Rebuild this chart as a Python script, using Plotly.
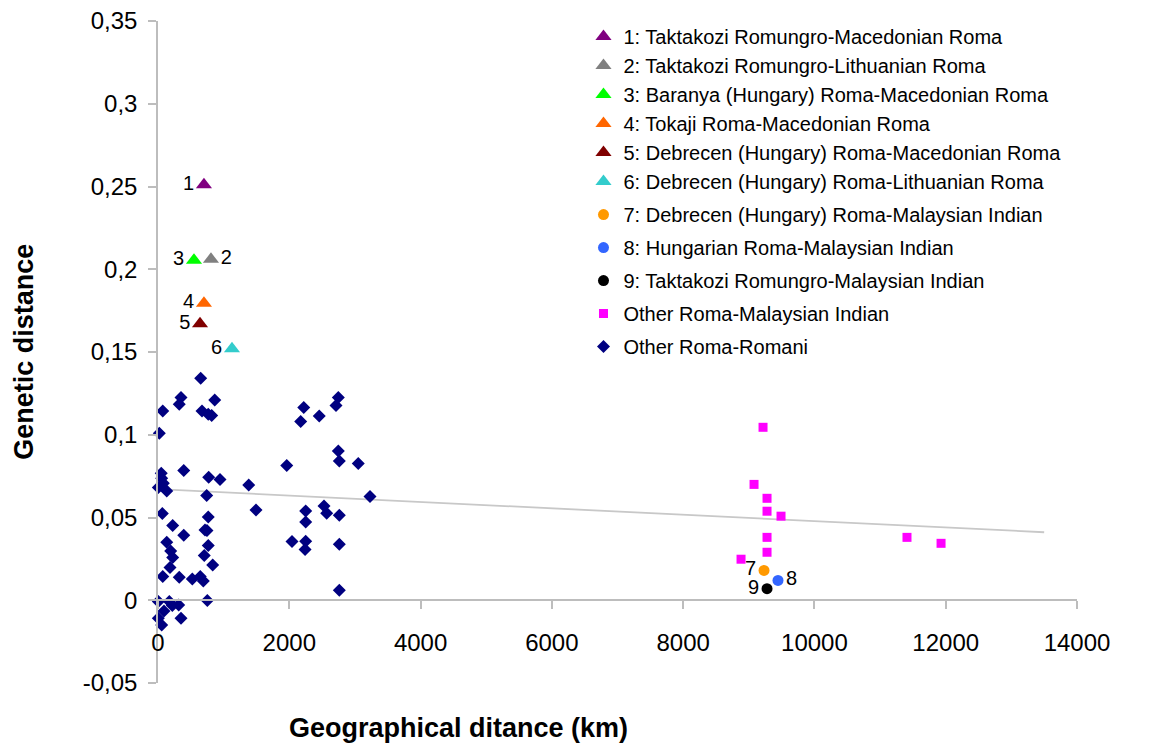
import plotly.graph_objects as go

# ---------------- data ----------------
special_names = [
    "1: Taktakozi Romungro-Macedonian Roma",
    "2: Taktakozi Romungro-Lithuanian Roma",
    "3: Baranya (Hungary) Roma-Macedonian Roma",
    "4: Tokaji Roma-Macedonian Roma",
    "5: Debrecen (Hungary) Roma-Macedonian Roma",
    "6: Debrecen (Hungary) Roma-Lithuanian Roma",
    "7: Debrecen (Hungary) Roma-Malaysian Indian",
    "8: Hungarian Roma-Malaysian Indian",
    "9: Taktakozi Romungro-Malaysian Indian",
]
special_labels = ["1", "2", "3", "4", "5", "6", "7", "8", "9"]
special_x = [700, 807, 548, 700, 640, 1127, 9232, 9445, 9278]
special_y = [0.251, 0.206, 0.2055, 0.1795, 0.167, 0.152, 0.0180, 0.012, 0.0070]

malay_x = [9217, 9080, 9278, 9278, 9491, 9278, 9278, 8882, 11410, 11929]
malay_y = [0.1045, 0.070, 0.0616, 0.0538, 0.0508, 0.038, 0.029, 0.0248, 0.038, 0.0344]

romani_x = [650, 350, 324, 864, 72, 670, 766, 818, 20, 50, 392, 772, 945, 1382,
            56, 81, 5, 133, 742, 1493, 66, 766, 224, 716, 746, 392, 133, 766,
            193, 224, 705, 833, 183, 72, 324, 523, 644, 690, 751, 5, 172, 218,
            315, 91, 5, 350, 56,
            2747, 2712, 2220, 2457, 2174, 2747, 2762, 1961, 3051, 3230, 2250,
            2529, 2570, 2762, 2250, 2041, 2250, 2240, 2762, 2762]
romani_y = [0.1341, 0.1225, 0.1184, 0.1210, 0.1144, 0.1144, 0.1124, 0.1116,
            0.1009, 0.0767, 0.0784, 0.0743, 0.0729, 0.0697, 0.0737, 0.0707,
            0.0681, 0.0660, 0.0633, 0.0546, 0.0524, 0.0503, 0.0451, 0.0425,
            0.0421, 0.0393, 0.0350, 0.0331, 0.0298, 0.0258, 0.0270, 0.0213,
            0.0198, 0.0143, 0.0139, 0.0129, 0.0143, 0.0117, -0.0002, -0.0008,
            -0.0008, -0.0032, -0.0028, -0.0065, -0.0109, -0.0109, -0.0149,
            0.1225, 0.1176, 0.1164, 0.1114, 0.1080, 0.0902, 0.0842, 0.0814,
            0.0826, 0.0627, 0.0540, 0.0570, 0.0526, 0.0514, 0.0473, 0.0355,
            0.0356, 0.0306, 0.0338, 0.0060]

trend_x = [0, 13500]
trend_y = [0.0671, 0.0411]

x_ticks = [0, 2000, 4000, 6000, 8000, 10000, 12000, 14000]
y_ticks = [-0.05, 0, 0.05, 0.1, 0.15, 0.2, 0.25, 0.3, 0.35]
y_ticktext = ["-0,05", "0", "0,05", "0,1", "0,15", "0,2", "0,25", "0,3", "0,35"]

# ---------------- styles ----------------
special_colors = ["#800080", "#808080", "#00FF00", "#FF6600", "#800000",
                  "#33CCCC", "#FF9900", "#3366FF", "#000000"]
special_symbols = ["triangle-up"] * 6 + ["circle"] * 3
special_sizes = [14] * 6 + [11] * 3
special_textpos = ["middle left", "middle right", "middle left", "middle left",
                   "middle left", "middle left", "middle left", "middle right",
                   "middle left"]
special_groups = ["tri"] * 6 + ["c7", "c8", "c9"]

FONT = "Liberation Sans, Arial, sans-serif"
AXIS_GRAY = "#BDBDBD"

fig = go.Figure()

# trend line
fig.add_trace(go.Scatter(x=trend_x, y=trend_y, mode="lines",
                         line=dict(color="#C8C8C8", width=1.8),
                         showlegend=False, hoverinfo="skip"))

for i in range(len(special_names)):
    fig.add_trace(go.Scatter(
        x=[special_x[i]], y=[special_y[i]], mode="markers+text",
        name=special_names[i], text=[special_labels[i]],
        legendgroup=special_groups[i],
        textposition=special_textpos[i],
        textfont=dict(family=FONT, size=20, color="black"),
        marker=dict(symbol=special_symbols[i], size=special_sizes[i],
                    color=special_colors[i]),
        cliponaxis=False))

fig.add_trace(go.Scatter(x=malay_x, y=malay_y, mode="markers",
                         name="Other Roma-Malaysian Indian", legendgroup="sq",
                         marker=dict(symbol="square", size=9, color="#FF00FF"),
                         cliponaxis=False))
fig.add_trace(go.Scatter(x=romani_x, y=romani_y, mode="markers",
                         name="Other Roma-Romani", legendgroup="dia",
                         marker=dict(symbol="diamond", size=10, color="#000080"),
                         cliponaxis=False))

fig.update_layout(
    width=1160, height=745,
    margin=dict(l=158, r=83, t=21, b=62, autoexpand=False),
    paper_bgcolor="white", plot_bgcolor="white",
    font=dict(family=FONT, size=24, color="black"),
    showlegend=True,
    legend=dict(x=0.463, y=1.006, xanchor="left", yanchor="top",
                bgcolor="rgba(0,0,0,0)", font=dict(family=FONT, size=20),
                tracegroupgap=4, itemwidth=30, groupclick="toggleitem"),
    xaxis=dict(range=[0, 14000], anchor="free", position=0.125,
               automargin=False,
               showline=True, linecolor=AXIS_GRAY, linewidth=1.5,
               ticks="outside", ticklen=8, tickcolor=AXIS_GRAY, tickwidth=1.5,
               tickvals=x_ticks, tickformat="d", ticklabelstandoff=13,
               showgrid=False, zeroline=False,
               tickfont=dict(family=FONT, size=24)),
    yaxis=dict(range=[-0.05, 0.35], automargin=False,
               showline=True, linecolor=AXIS_GRAY,
               linewidth=1.5, ticks="outside", ticklen=8, tickcolor=AXIS_GRAY,
               tickwidth=1.5, tickvals=y_ticks, ticktext=y_ticktext,
               showgrid=False, zeroline=False, ticklabelstandoff=6,
               tickfont=dict(family=FONT, size=24)),
    annotations=[
        dict(text="<b>Genetic distance</b>", xref="paper", yref="paper",
             x=-0.146, y=0.5, xanchor="center", yanchor="middle",
             textangle=-90, showarrow=False,
             font=dict(family=FONT, size=27, color="black")),
        dict(text="<b>Geographical ditance (km)</b>", xref="paper", yref="paper",
             x=0.3275, y=-0.068, xanchor="center", yanchor="middle",
             showarrow=False, font=dict(family=FONT, size=27, color="black")),
    ],
)

fig.write_html("out.html",
               config={"displayModeBar": False},
               post_script="document.body.style.margin='0px';"
                           "document.body.style.padding='0px';")
